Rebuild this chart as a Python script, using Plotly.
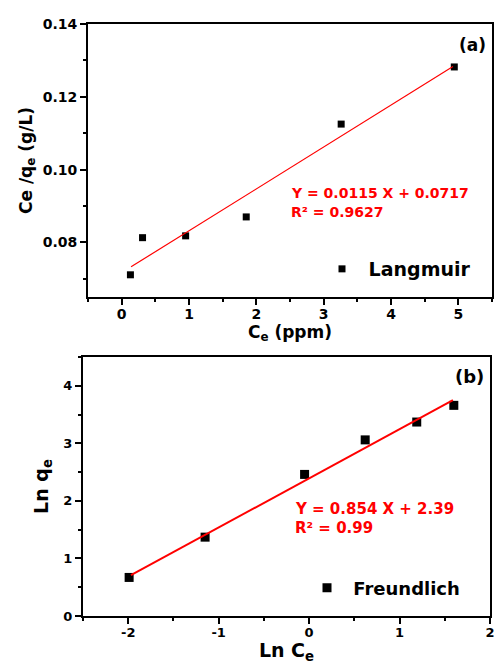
import plotly.graph_objects as go

# ---------------- data ----------------
# (a) Langmuir isotherm
lang_ce = [0.13, 0.31, 0.95, 1.85, 3.26, 4.94]
lang_ce_qe = [0.0711, 0.0813, 0.0818, 0.0870, 0.1125, 0.1282]
lang_fit_x = [0.14, 4.92]
lang_fit_y = [0.0733, 0.1283]
lang_eq = "Y = 0.0115 X + 0.0717"
lang_r2 = "R² = 0.9627"

# (b) Freundlich isotherm
fr_lnce = [-1.99, -1.15, -0.05, 0.62, 1.19, 1.60]
fr_lnqe = [0.67, 1.37, 2.46, 3.06, 3.37, 3.66]
fr_fit_x = [-1.97, 1.59]
fr_fit_y = [0.71, 3.75]
fr_eq = "Y = 0.854 X + 2.39"
fr_r2 = "R² = 0.99"
fr_xticks = [-2, -1, 0, 1, 2]
fr_xticklabels = ["-2", "-1", "0", "1", "2"]

# ---------------- layout helpers ----------------
W, H = 495, 664
FONT = "DejaVu Sans"


def px(x):
    return x / W


def py(y):
    return 1 - y / H


fig = go.Figure()

fig.add_trace(go.Scatter(
    x=lang_ce, y=lang_ce_qe, mode="markers", name="\u00a0Langmuir",
    marker=dict(symbol="square", size=7, color="black"),
    xaxis="x", yaxis="y", legend="legend"))
fig.add_trace(go.Scatter(
    x=lang_fit_x, y=lang_fit_y, mode="lines", showlegend=False,
    line=dict(color="#ff0000", width=1.2), xaxis="x", yaxis="y"))

fig.add_trace(go.Scatter(
    x=fr_lnce, y=fr_lnqe, mode="markers", name="\u00a0Freundlich",
    marker=dict(symbol="square", size=9, color="black"),
    xaxis="x2", yaxis="y2", legend="legend2"))
fig.add_trace(go.Scatter(
    x=fr_fit_x, y=fr_fit_y, mode="lines", showlegend=False,
    line=dict(color="#ff0000", width=2), xaxis="x2", yaxis="y2"))


def axis(size, **kw):
    d = dict(showline=True, linecolor="black", linewidth=2, mirror=True,
             ticks="outside", ticklen=6, tickwidth=1.5, tickcolor="black",
             showgrid=False, zeroline=False, fixedrange=True, automargin=False,
             tickfont=dict(family=FONT, size=size, color="black", weight="bold"))
    d.update(kw)
    return d


minor = lambda dt: dict(ticks="outside", ticklen=3, tickwidth=1.5,
                        tickcolor="black", dtick=dt, showgrid=False)

fig.update_layout(
    template="none",
    width=W, height=H,
    margin=dict(l=0, r=0, t=0, b=0, pad=0),
    paper_bgcolor="white", plot_bgcolor="white",
    xaxis=axis(14, domain=[px(88), px(492)], range=[-0.5, 5.5], dtick=1,
               minor=minor(0.5), anchor="y", ticklabelstandoff=-3,
               title=dict(text="C<sub>e</sub> (ppm)", standoff=4,
                          font=dict(family=FONT, size=17, color="black", weight="bold"))),
    yaxis=axis(14, domain=[py(297), py(24)], range=[0.065, 0.14], dtick=0.02,
               tickformat=".2f", minor=minor(0.01), anchor="x",
               title=dict(text="Ce /q<sub>e</sub> (g/L)", standoff=6,
                          font=dict(family=FONT, size=17, color="black", weight="bold"))),
    xaxis2=axis(13, domain=[px(83), px(490)], range=[-2.5, 2],
                tickmode="array", tickvals=fr_xticks, ticktext=fr_xticklabels,
                minor=minor(0.5), anchor="y2", ticklabelstandoff=-3,
                title=dict(text="Ln C<sub>e</sub>", standoff=4,
                           font=dict(family=FONT, size=19, color="black", weight="bold"))),
    yaxis2=axis(13, domain=[py(616), py(357)], range=[0, 4.5], dtick=1,
                minor=minor(0.5), anchor="x2",
                title=dict(text="Ln q<sub>e</sub>", standoff=10,
                           font=dict(family=FONT, size=19, color="black", weight="bold"))),
    legend=dict(x=px(322), y=py(269), xanchor="left", yanchor="middle",
                bgcolor="rgba(0,0,0,0)",
                font=dict(family=FONT, size=19, color="black", weight="bold")),
    legend2=dict(x=px(307), y=py(588), xanchor="left", yanchor="middle",
                 bgcolor="rgba(0,0,0,0)",
                 font=dict(family=FONT, size=18, color="black", weight="bold")),
)

red = dict(family=FONT, size=14, color="#ff0000", weight="bold")
red2 = dict(family=FONT, size=15, color="#ff0000", weight="bold")
blk = dict(family=FONT, size=17, color="black", weight="bold")
ann = [
    dict(text="(a)", x=px(472), y=py(45.5), xanchor="center", yanchor="middle", font=blk),
    dict(text="(b)", x=px(469), y=py(377), xanchor="center", yanchor="middle",
         font=dict(blk, size=18)),
    dict(text=lang_eq, x=px(289), y=py(193), xanchor="left", yanchor="middle", font=red),
    dict(text=lang_r2, x=px(289), y=py(212), xanchor="left", yanchor="middle", font=red),
    dict(text=fr_eq, x=px(293), y=py(509), xanchor="left", yanchor="middle", font=red2),
    dict(text=fr_r2, x=px(293), y=py(528), xanchor="left", yanchor="middle", font=red2),
]
for a in ann:
    a.update(xref="paper", yref="paper", showarrow=False)
fig.update_layout(annotations=ann)

fig.write_html("out.html")
